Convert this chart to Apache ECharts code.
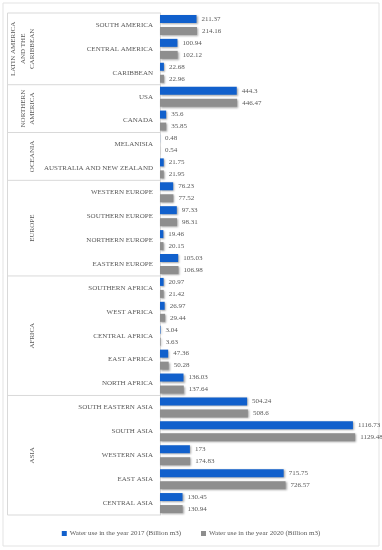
<!DOCTYPE html>
<html>
<head>
<meta charset="utf-8">
<script src="https://cdn.jsdelivr.net/npm/echarts@6/dist/echarts.min.js"></script>
<style>html,body{margin:0;padding:0;background:#fff}#c{width:382px;height:550px}</style>
</head>
<body>
<div id="c"></div>
<script>
var categories = ['SOUTH AMERICA','CENTRAL AMERICA','CARIBBEAN','USA','CANADA','MELANISIA','AUSTRALIA AND NEW ZEALAND','WESTERN EUROPE','SOUTHERN EUROPE','NORTHERN EUROPE','EASTERN EUROPE','SOUTHERN AFRICA','WEST AFRICA','CENTRAL AFRICA','EAST AFRICA','NORTH AFRICA','SOUTH EASTERN ASIA','SOUTH ASIA','WESTERN ASIA','EAST ASIA','CENTRAL ASIA'];
var use2017 = [211.37,100.94,22.68,444.3,35.6,0.48,21.75,76.23,97.33,19.46,105.03,20.97,26.97,3.04,47.36,136.03,504.24,1116.73,173,715.75,130.45];
var use2020 = [214.16,102.12,22.96,446.47,35.85,0.54,21.95,77.52,98.31,20.15,106.98,21.42,29.44,3.63,50.28,137.64,508.6,1129.48,174.83,726.57,130.94];
var groupNames = ['LATIN AMERICA\nAND THE\nCARIBBEAN','NORTHERN\nAMERICA','OCEANIA','EUROPE','AFRICA','ASIA'];
var groupSizes = [3,2,2,4,5,5];
var seriesNames = ['Water use in the year 2017 (Billion m3)','Water use in the year 2020 (Billion m3)'];

var FONT = '"Liberation Serif", "DejaVu Serif", serif';
var TXT = '#595959';
var chart = echarts.init(document.getElementById('c'), null, {renderer:'canvas'});
function barSeries(name, data, color) {
  return {
    name: name, type: 'bar', data: data, barWidth: 8, barGap: '50%',
    itemStyle: {color: color, shadowColor: 'rgba(0,0,0,0.35)', shadowBlur: 2, shadowOffsetX: 1, shadowOffsetY: 1},
    label: {show: true, position: 'right', distance: 5, fontFamily: FONT, fontSize: 7, color: TXT},
    emphasis: {disabled: true}
  };
}
chart.setOption({
  animation: false,
  textStyle: {fontFamily: FONT},
  grid: {left: 160, top: 13, width: 212, bottom: 35, containLabel: false},
  legend: {
    bottom: 8, left: 'center', itemWidth: 5, itemHeight: 5, itemGap: 20,
    icon: 'rect',
    textStyle: {fontFamily: FONT, fontSize: 7, color: TXT, padding: [0,0,0,-2]},
    data: seriesNames
  },
  xAxis: {type: 'value', min: 0, max: 1227, show: false},
  yAxis: {
    type: 'category', data: categories, inverse: true,
    axisLine: {show: true, lineStyle: {color: '#D9D9D9', width: 1}},
    axisTick: {show: false},
    axisLabel: {fontFamily: FONT, fontSize: 7, color: TXT, margin: 7},
    splitLine: {show: false}
  },
  series: [barSeries(seriesNames[0], use2017, '#1160CC'), barSeries(seriesNames[1], use2020, '#8E8E8E')]
});

function buildGraphics() {
  var y0 = chart.convertToPixel({yAxisIndex: 0}, categories[0]);
  var y1 = chart.convertToPixel({yAxisIndex: 0}, categories[1]);
  var band = y1 - y0;
  var top = y0 - band / 2;
  var elements = [];
  elements.push({type: 'rect', shape: {x: 3, y: 3, width: 376, height: 543}, style: {fill: null, stroke: '#E3E3E3', lineWidth: 1}, silent: true});
  var lineX0 = 7.5, lineX1 = 160;
  var bottom = top + band * categories.length;
  elements.push({type: 'line', shape: {x1: lineX0, y1: top, x2: lineX0, y2: bottom}, style: {stroke: '#D9D9D9', lineWidth: 1}, silent: true});
  elements.push({type: 'line', shape: {x1: lineX0, y1: top, x2: lineX1, y2: top}, style: {stroke: '#D9D9D9', lineWidth: 1}, silent: true});
  var idx = 0;
  for (var g = 0; g < groupNames.length; g++) {
    var start = top + band * idx;
    idx += groupSizes[g];
    var end = top + band * idx;
    elements.push({type: 'line', shape: {x1: lineX0, y1: end, x2: lineX1, y2: end}, style: {stroke: '#D9D9D9', lineWidth: 1}, silent: true});
    elements.push({
      type: 'text', x: 37, y: (start + end) / 2, rotation: Math.PI / 2,
      style: {text: groupNames[g], font: '7px ' + FONT, fill: TXT, textAlign: 'center', textVerticalAlign: 'bottom', lineHeight: 9.5},
      silent: true
    });
  }
  chart.setOption({graphic: {elements: elements}});
}
buildGraphics();
</script>
</body>
</html>
